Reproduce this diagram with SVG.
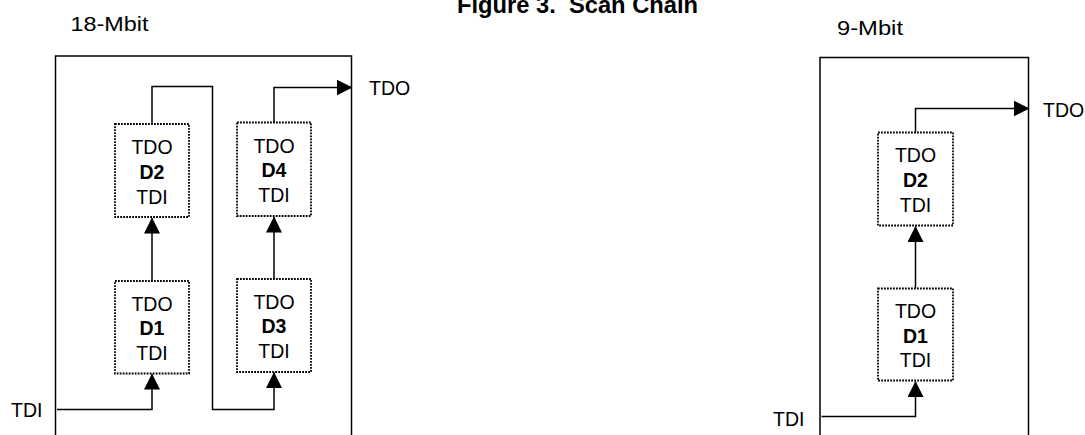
<svg xmlns="http://www.w3.org/2000/svg" width="1085" height="435" viewBox="0 0 1085 435">
<style>
text{font-family:"Liberation Sans",Arial,sans-serif;fill:#000}
.lbl{font-size:19.5px}
.dev{font-size:19.5px;text-anchor:middle}
.b{font-weight:bold}
.frame{fill:none;stroke:#000;stroke-width:1.5}
.chip{fill:#fff;stroke:#000;stroke-width:1.8;stroke-dasharray:1.8 1.2}
.wire{fill:none;stroke:#000;stroke-width:1.5}
</style>
<defs>
<marker id="arr" markerUnits="userSpaceOnUse" markerWidth="17" markerHeight="17" refX="15.5" refY="8" orient="auto">
<path d="M0,0 L16,8 L0,16 Z" fill="#000"/>
</marker>
</defs>
<rect width="1085" height="435" fill="#fff"/>
<text id="title" x="457" y="13" font-size="24" font-weight="bold" xml:space="preserve" textLength="241" lengthAdjust="spacingAndGlyphs">Figure 3.  Scan Chain</text>

<g id="frame18">
<rect class="frame" x="55.5" y="56" width="296" height="400"/>
<text class="lbl" x="70.5" y="31" font-size="20" textLength="78" lengthAdjust="spacingAndGlyphs">18-Mbit</text>
</g>
<g id="frame9">
<rect class="frame" x="820" y="57.5" width="208.5" height="400"/>
<text class="lbl" x="837" y="35" font-size="20" textLength="66" lengthAdjust="spacingAndGlyphs">9-Mbit</text>
</g>

<g id="connectors">
<polyline class="wire" points="57,409.5 152,409.5 152,374" marker-end="url(#arr)"/>
<polyline class="wire" points="152,281 152,218" marker-end="url(#arr)"/>
<polyline class="wire" points="152,124 152,86.5 212.5,86.5 212.5,409.5 274,409.5 274,372.5" marker-end="url(#arr)"/>
<polyline class="wire" points="274,279 274,217" marker-end="url(#arr)"/>
<polyline class="wire" points="274,122.5 274,87.5 352,87.5" marker-end="url(#arr)"/>
<polyline class="wire" points="821.5,416.5 915.5,416.5 915.5,381.5" marker-end="url(#arr)"/>
<polyline class="wire" points="915.5,288.5 915.5,226.5" marker-end="url(#arr)"/>
<polyline class="wire" points="915.5,132.5 915.5,108.5 1029,108.5" marker-end="url(#arr)"/>
</g>

<g id="io18">
<text class="lbl" x="11" y="416.5">TDI</text>
<text class="lbl" x="369" y="95">TDO</text>
</g>
<g id="io9">
<text class="lbl" x="773" y="426">TDI</text>
<text class="lbl" x="1043" y="116.5">TDO</text>
</g>

<g id="D1_18">
<rect class="chip" x="115" y="281" width="74" height="92.5"/>
<text class="dev" x="152" y="310.5">TDO</text>
<text class="dev b" x="152" y="335">D1</text>
<text class="dev" x="152" y="360">TDI</text>
</g>
<g id="D2_18">
<rect class="chip" x="115" y="124" width="74" height="93"/>
<text class="dev" x="152" y="154">TDO</text>
<text class="dev b" x="152" y="178.5">D2</text>
<text class="dev" x="152" y="203.5">TDI</text>
</g>
<g id="D3_18">
<rect class="chip" x="237" y="279" width="74" height="93"/>
<text class="dev" x="274" y="308.5">TDO</text>
<text class="dev b" x="274" y="333">D3</text>
<text class="dev" x="274" y="358">TDI</text>
</g>
<g id="D4_18">
<rect class="chip" x="237" y="122.5" width="74" height="93.5"/>
<text class="dev" x="274" y="152.5">TDO</text>
<text class="dev b" x="274" y="177">D4</text>
<text class="dev" x="274" y="202">TDI</text>
</g>
<g id="D1_9">
<rect class="chip" x="878" y="288.5" width="75" height="92"/>
<text class="dev" x="915.5" y="318">TDO</text>
<text class="dev b" x="915.5" y="343">D1</text>
<text class="dev" x="915.5" y="367">TDI</text>
</g>
<g id="D2_9">
<rect class="chip" x="878" y="132.5" width="75" height="93"/>
<text class="dev" x="915.5" y="161.5">TDO</text>
<text class="dev b" x="915.5" y="187">D2</text>
<text class="dev" x="915.5" y="211.5">TDI</text>
</g>
</svg>
